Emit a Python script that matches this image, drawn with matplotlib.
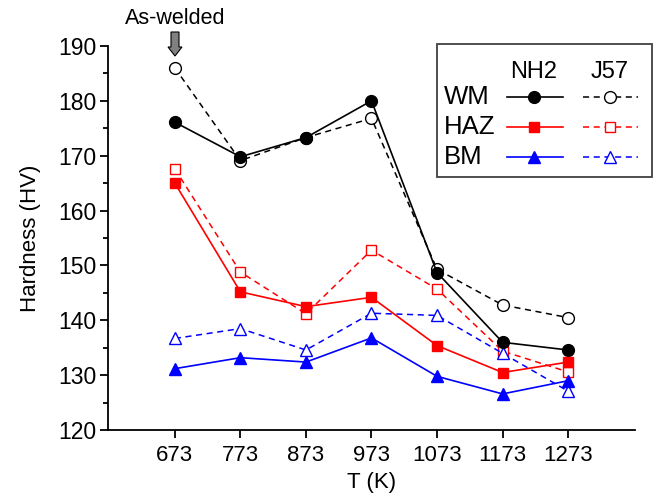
import matplotlib.pyplot as plt
from matplotlib.lines import Line2D
from matplotlib.patches import Rectangle, FancyArrow
from matplotlib.ticker import MultipleLocator

plt.rcParams['font.family'] = ['Liberation Sans', 'DejaVu Sans']

temps = [673, 773, 873, 973, 1073, 1173, 1273]
wm_nh2 = [176.1, 169.8, 173.3, 180.0, 148.7, 136.0, 134.6]
wm_j57 = [186.0, 169.1, 173.3, 176.8, 149.3, 142.8, 140.5]
haz_nh2 = [165.0, 145.2, 142.5, 144.2, 135.4, 130.5, 132.4]
haz_j57 = [167.6, 148.8, 141.2, 152.8, 145.7, 134.4, 130.6]
bm_nh2 = [131.2, 133.2, 132.4, 136.8, 129.8, 126.6, 129.0]
bm_j57 = [136.7, 138.5, 134.6, 141.3, 140.9, 134.0, 127.1]

zones = ["WM", "HAZ", "BM"]
colors = ["black", "red", "blue"]
markers = ["o", "s", "^"]
sizes = [8.5, 7.5, 9]
nh2 = [wm_nh2, haz_nh2, bm_nh2]
j57 = [wm_j57, haz_j57, bm_j57]

fig = plt.figure(figsize=(6.56, 4.99), dpi=100)
ax = fig.add_axes([0.1646, 0.138, 0.8034, 0.770])

for z, c, m, s, a, b in zip(zones, colors, markers, sizes, nh2, j57):
    ax.plot(temps, b, color=c, ls=(0, (4, 3)), lw=1.1, marker=m, ms=s,
            mfc="white", mec=c, mew=1.0, zorder=2)
    ax.plot(temps, a, color=c, ls="-", lw=1.2, marker=m, ms=s,
            mfc=c, mec=c, zorder=3)

ax.set_xlim(571, 1375)
ax.set_ylim(120, 190)
ax.set_xticks(temps)
ax.yaxis.set_major_locator(MultipleLocator(10))
ax.yaxis.set_minor_locator(MultipleLocator(5))
ax.spines["top"].set_visible(False)
ax.spines["right"].set_visible(False)
for sp in ["left", "bottom"]:
    ax.spines[sp].set_linewidth(1.3)
ax.tick_params(which="major", direction="out", length=6, width=1.3, labelsize=16.5)
ax.tick_params(axis="x", which="major", labelsize=16, pad=5)
ax.tick_params(axis="y", which="major", pad=2)
ax.tick_params(which="minor", direction="out", length=3.5, width=1.3)
ax.set_xlabel("T (K)", fontsize=16, labelpad=4)
ax.set_ylabel("Hardness (HV)", fontsize=16, labelpad=13)

# As-welded marker
fig.text(175 / 656, 1 - 18 / 499, "As-welded", fontsize=15.5, ha="center", va="center")
fig.patches.append(FancyArrow(175 / 656, 1 - 32 / 499, 0, -24 / 499, width=8 / 656,
                              head_width=14 / 656, head_length=9 / 499,
                              length_includes_head=True, transform=fig.transFigure,
                              fc="#808080", ec="black", lw=0.8))

# custom legend
px = lambda x: x / 656
py = lambda y: 1 - y / 499
fig.patches.append(Rectangle((px(437), py(177)), px(652) - px(437), py(44) - py(177),
                             transform=fig.transFigure, fill=True, fc="white",
                             ec="#404040", lw=1.3, zorder=5))
fig.text(px(534), py(72), "NH2", fontsize=17, ha="center", va="center", zorder=6)
fig.text(px(610), py(72), "J57", fontsize=17, ha="center", va="center", zorder=6)
rows = [97, 127, 157]
for z, c, m, s, yy in zip(zones, colors, markers, sizes, rows):
    fig.text(px(444), py(yy), z, fontsize=18.5, ha="left", va="center", zorder=6)
    fig.lines.append(Line2D([px(507), px(534), px(563)], [py(yy)] * 3,
                            transform=fig.transFigure, color=c, lw=1.2,
                            marker=m, ms=s, markevery=[1], mfc=c, mec=c, zorder=6))
    fig.lines.append(Line2D([px(583), px(610), px(638)], [py(yy)] * 3,
                            transform=fig.transFigure, color=c, lw=1.1,
                            ls=(0, (4, 3)), marker=m, ms=s, markevery=[1],
                            mfc="white", mec=c, mew=1.0, zorder=6))

fig.savefig("out.png", dpi=100)
